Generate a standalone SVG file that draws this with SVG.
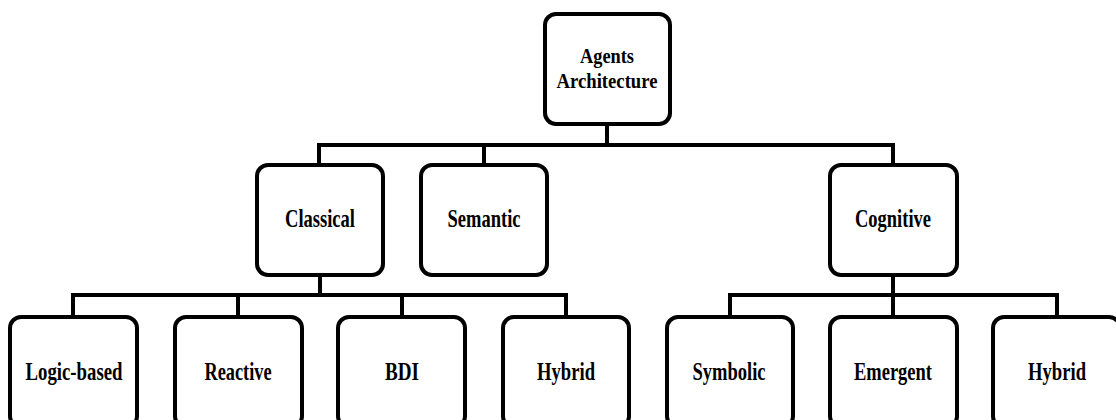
<svg xmlns="http://www.w3.org/2000/svg" width="1116" height="420" viewBox="0 0 1116 420">
<style>
.box{fill:#fff;stroke:#000;stroke-width:4}
.lbl{font-family:"Liberation Serif","Times New Roman",serif;font-weight:bold;font-size:25px;fill:#000;text-anchor:middle}
.top{font-size:22px}
.low{font-size:26px}
.con{fill:none;stroke:#000;stroke-width:4;stroke-linecap:square}
</style>
<rect width="1116" height="420" fill="#fff"/>
<g id="connectors">
<path class="con" d="M607 124V145M319 145H893M319 145V165M484 145V165M893 145V165"/>
<path class="con" d="M320 275V295M73 295H566M73 295V317M238 295V317M402 295V317M566 295V317"/>
<path class="con" d="M893 275V295M730 295H1057M730 295V317M893 295V317M1057 295V317"/>
</g>
<g id="agents-architecture">
<rect class="box" x="545" y="14" width="125" height="110" rx="11"/>
<text class="lbl top" x="607" y="63" textLength="54" lengthAdjust="spacingAndGlyphs">Agents</text>
<text class="lbl top" x="607" y="88" textLength="101" lengthAdjust="spacingAndGlyphs">Architecture</text>
</g>
<g id="classical">
<rect class="box" x="257" y="165" width="126" height="110" rx="11"/>
<text class="lbl" x="320" y="227" textLength="70" lengthAdjust="spacingAndGlyphs">Classical</text>
</g>
<g id="semantic">
<rect class="box" x="421" y="165" width="126" height="110" rx="11"/>
<text class="lbl" x="484" y="227" textLength="73" lengthAdjust="spacingAndGlyphs">Semantic</text>
</g>
<g id="cognitive">
<rect class="box" x="830" y="165" width="127" height="110" rx="11"/>
<text class="lbl" x="893" y="227" textLength="76" lengthAdjust="spacingAndGlyphs">Cognitive</text>
</g>
<g id="logic-based">
<rect class="box" x="10" y="317" width="127" height="110" rx="11"/>
<text class="lbl low" x="74" y="380" textLength="97" lengthAdjust="spacingAndGlyphs">Logic-based</text>
</g>
<g id="reactive">
<rect class="box" x="175" y="317" width="127" height="110" rx="11"/>
<text class="lbl low" x="238" y="380" textLength="67" lengthAdjust="spacingAndGlyphs">Reactive</text>
</g>
<g id="bdi">
<rect class="box" x="338" y="317" width="127" height="110" rx="11"/>
<text class="lbl low" x="402" y="380" textLength="34" lengthAdjust="spacingAndGlyphs">BDI</text>
</g>
<g id="hybrid-classical">
<rect class="box" x="503" y="317" width="126" height="110" rx="11"/>
<text class="lbl low" x="566" y="380" textLength="58" lengthAdjust="spacingAndGlyphs">Hybrid</text>
</g>
<g id="symbolic">
<rect class="box" x="667" y="317" width="126" height="110" rx="11"/>
<text class="lbl low" x="729" y="380" textLength="73" lengthAdjust="spacingAndGlyphs">Symbolic</text>
</g>
<g id="emergent">
<rect class="box" x="830" y="317" width="127" height="110" rx="11"/>
<text class="lbl low" x="893" y="380" textLength="78" lengthAdjust="spacingAndGlyphs">Emergent</text>
</g>
<g id="hybrid-cognitive">
<rect class="box" x="993" y="317" width="127" height="110" rx="11"/>
<text class="lbl low" x="1057" y="380" textLength="58" lengthAdjust="spacingAndGlyphs">Hybrid</text>
</g>
</svg>
